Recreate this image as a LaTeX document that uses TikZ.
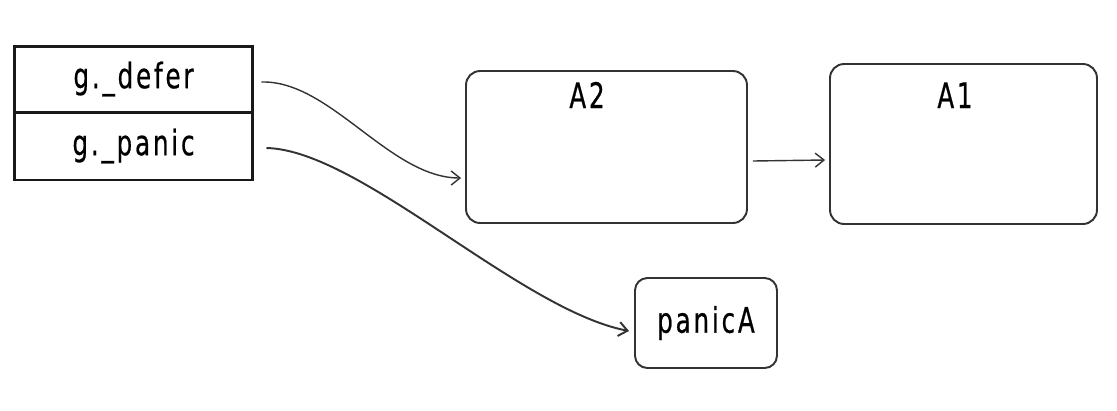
\documentclass[tikz,border=0pt]{standalone}
\usepackage{fontspec}
\usetikzlibrary{arrows.meta,calc}
\newfontfamily\hand[FakeStretch=0.7,LetterSpace=8,FakeBold=0.6]{DejaVu Sans}
\begin{document}
\begin{tikzpicture}[x=0.02cm,y=-0.02cm,
  txt/.style={font=\hand\fontsize{20}{24}\selectfont, text=black},
  cell/.style={draw=black!90, line width=1.7pt, minimum width=4.78cm, inner sep=0pt, txt},
  rbox/.style={draw=black!80, line width=1.1pt, rounded corners=8pt, inner sep=0pt},
  arr/.style={draw=black!80, line width=0.8pt, -{Straight Barb[length=5pt,width=8pt]}}]
\useasboundingbox (0,0) rectangle (1117,410);
% table
\node[cell, minimum height=1.32cm] (dfr) at (133.5,79) {g.\_defer};
\node[cell, minimum height=1.36cm] (pnc) at (133.5,146) {g.\_panic};
% boxes
\node[rbox, minimum width=5.62cm, minimum height=3.04cm] (a2) at (606.5,147) {};
\node[txt, anchor=base] (a2t) at (587,108) {A2};
\node[rbox, minimum width=5.34cm, minimum height=3.2cm] (a1) at (963.5,144) {};
\node[txt, anchor=base] (a1t) at (955,108) {A1};
\node[rbox, rounded corners=7pt, minimum width=2.84cm, minimum height=1.8cm, txt] (pa) at (706,323) {panicA};
% arrows
\draw[arr] ($(dfr.east)+(7,3)$) .. controls (330,80) and (390,178) .. ($(a2.west)+(-4,31)$);
\draw[arr, line width=1.1pt] ($(pnc.east)+(12,2)$) .. controls (360,150) and (520,310) .. ($(pa.west)+(-5,8)$);
\draw[arr] ($(a2.east)+(5,14)$) -- ($(a1.west)+(-4,16)$);
\end{tikzpicture}
\end{document}
